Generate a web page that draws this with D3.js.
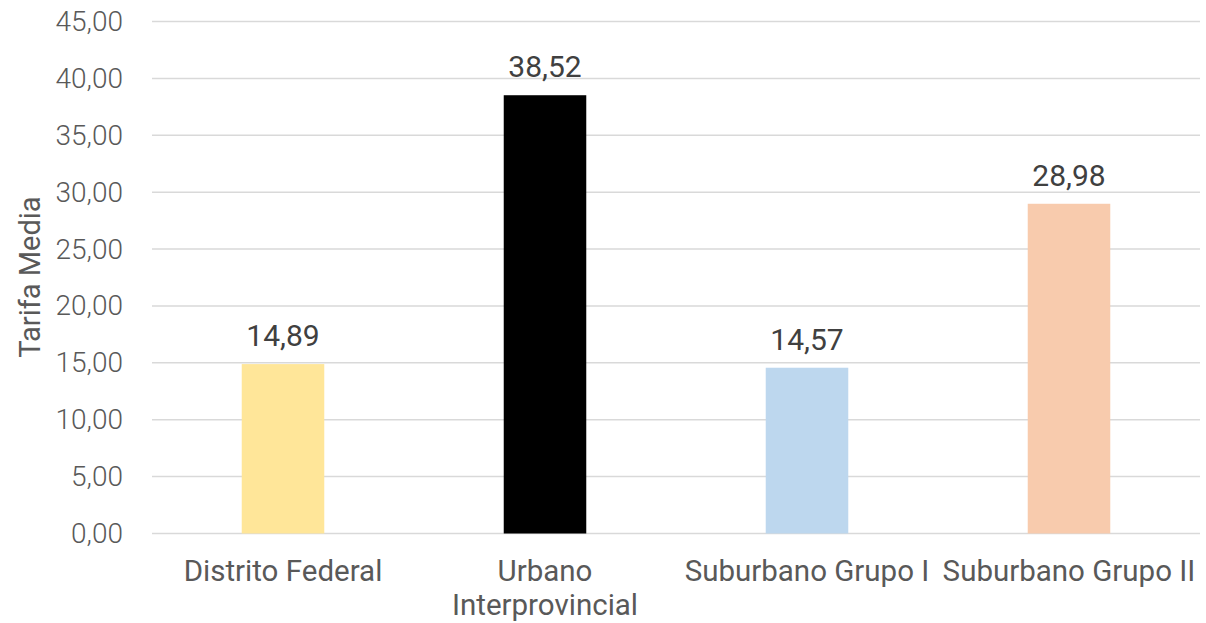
<!DOCTYPE html>
<html>
<head>
<meta charset="utf-8">
<script src="https://cdn.jsdelivr.net/npm/d3@7"></script>
<style>
  body { margin: 0; background: #fff; }
  svg { display: block; font-family: Roboto, sans-serif; }
</style>
</head>
<body>
<svg id="chart"></svg>
<script>
// chart data
const categories = ["Distrito Federal", "Urbano Interprovincial", "Suburbano Grupo I", "Suburbano Grupo II"];
const values = [14.89, 38.52, 14.57, 28.98];
const barColors = ["#FFE699", "#000000", "#BDD7EE", "#F8CBAD"];
const yTicks = [0, 5, 10, 15, 20, 25, 30, 35, 40, 45];
const yTitle = "Tarifa Media";

const w = 1206, h = 623;
const padLeft = 152, padRight = 1200, padTop = 21.5, padBottom = 533.5;

const svg = d3.select("#chart").attr("width", w).attr("height", h);

const fmt = v => d3.format(".2f")(v).replace(".", ",");

const x = d3.scaleBand()
  .domain(categories)
  .range([padLeft, padRight])
  .paddingInner(0.685)
  .paddingOuter(0.3425);

const y = d3.scaleLinear()
  .domain([0, 45])
  .range([padBottom, padTop]);

// gridlines
svg.append("g")
  .selectAll("line")
  .data(yTicks)
  .join("line")
  .attr("x1", padLeft).attr("x2", padRight)
  .attr("y1", d => y(d)).attr("y2", d => y(d))
  .attr("stroke", "#d9d9d9")
  .attr("stroke-width", 1.5);

// y axis labels
const yAxis = d3.axisLeft(y).tickValues(yTicks).tickFormat(fmt).tickSize(0).tickPadding(29);
svg.append("g")
  .attr("transform", "translate(" + padLeft + ",0)")
  .call(yAxis)
  .call(g => g.select(".domain").remove())
  .selectAll("text")
  .attr("font-family", "Roboto, sans-serif")
  .attr("font-weight", 300)
  .attr("font-size", 28)
  .attr("fill", "#595959");

// bars
svg.append("g")
  .selectAll("rect")
  .data(values)
  .join("rect")
  .attr("x", (d, i) => x(categories[i]))
  .attr("width", x.bandwidth())
  .attr("y", d => y(d))
  .attr("height", d => y(0) - y(d))
  .attr("fill", (d, i) => barColors[i]);

// value labels
svg.append("g")
  .selectAll("text")
  .data(values)
  .join("text")
  .attr("x", (d, i) => x(categories[i]) + x.bandwidth() / 2)
  .attr("y", d => y(d) - 18)
  .attr("text-anchor", "middle")
  .attr("font-size", 30)
  .attr("fill", "#404040")
  .text(fmt);

// category labels (wrap the long one)
const catWrap = {"Urbano Interprovincial": ["Urbano", "Interprovincial"]};
const cats = svg.append("g")
  .selectAll("text")
  .data(categories)
  .join("text")
  .attr("x", d => x(d) + x.bandwidth() / 2)
  .attr("y", 580.5)
  .attr("text-anchor", "middle")
  .attr("font-size", 29.5)
  .attr("fill", "#595959");
cats.each(function(d) {
  const lines = catWrap[d] || [d];
  const t = d3.select(this);
  lines.forEach((ln, k) => {
    t.append("tspan")
      .attr("x", t.attr("x"))
      .attr("dy", k === 0 ? 0 : 34)
      .text(ln);
  });
});

// y title
svg.append("text")
  .attr("transform", "translate(40,277) rotate(-90)")
  .attr("text-anchor", "middle")
  .attr("font-size", 29)
  .attr("fill", "#595959")
  .text(yTitle);
</script>
</body>
</html>
